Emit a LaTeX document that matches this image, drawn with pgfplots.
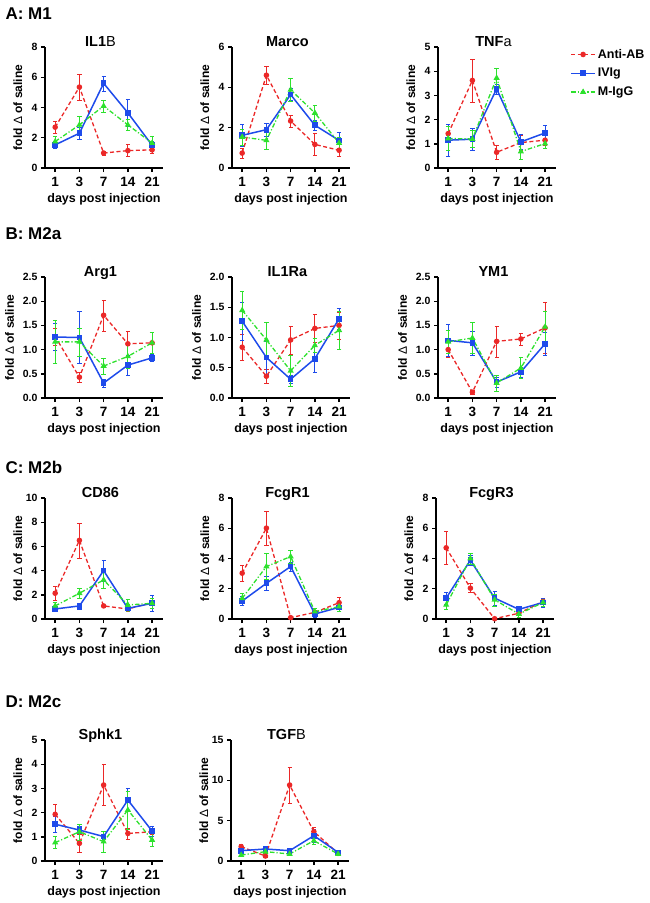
\documentclass[border=0pt]{standalone}
\usepackage{fontspec}
\setmainfont{Liberation Sans}
\usepackage{pgfplots}
\pgfplotsset{compat=1.18}
\definecolor{antired}{RGB}{235,40,40}
\definecolor{ivigblue}{RGB}{30,75,235}
\definecolor{migggreen}{RGB}{45,225,45}
\newcommand\fs[1]{\fontsize{#1}{#1}\selectfont\bfseries}

\pgfplotsset{
  panel/.style={
    scale only axis, width=118pt, height=121pt,
    anchor=south west,
    axis lines=left, axis line style={-, line width=1.4pt},
    tick style={line width=1.4pt, black}, tick align=outside,
    major tick length=4pt,
    xmin=-0.42, xmax=4.45, ymin=0,
    xtick={0,...,4}, xticklabels={1,3,7,14,21},
    /pgf/number format/assume math mode=true,
    yticklabel style={font=\fs{10.5}},
    xticklabel style={font=\fs{13.5}, yshift=-1.5pt},
    xlabel={days post injection},
    xlabel style={font=\fs{12.5}},
    ylabel={fold {\mdseries Δ} of saline},
    ylabel style={font=\fs{12}, at={(axis description cs:-0.23,0.5)}, anchor=center},
    title style={font=\fs{14.5}, at={(axis description cs:0.47,1)}, anchor=base, yshift=-5pt},
    clip=false,
  },
  dec/.style={yticklabel style={/pgf/number format/.cd, fixed, fixed zerofill, precision=1},
    ylabel style={at={(axis description cs:-0.30,0.5)}}},
  bars/.style={error bars/y dir=both, error bars/y explicit,
    /pgfplots/every error bar/.append style={#1, solid, line width=1pt}},
  anti/.style={color=antired, line width=1.3pt, dash pattern=on 4pt off 2.5pt,
    mark=*, mark size=2.1pt, mark options={solid}, bars=antired},
  ivig/.style={color=ivigblue, line width=1.5pt, solid,
    mark=square*, mark size=2.1pt, mark options={solid}, bars=ivigblue},
  migg/.style={color=migggreen, line width=1.3pt, dash pattern=on 4.5pt off 2pt on 1.2pt off 2pt,
    mark=triangle*, mark size=2.3pt, mark options={solid}, bars=migggreen},
}

\begin{document}
\begin{tikzpicture}
\path[use as bounding box] (0,0) rectangle (650pt,-903pt);

\node[anchor=west, font=\fs{17}] at (2pt,-14pt) {A: M1};
\node[anchor=west, font=\fs{17}] at (2pt,-234pt) {B: M2a};
\node[anchor=west, font=\fs{17}] at (2pt,-467pt) {C: M2b};
\node[anchor=west, font=\fs{17}] at (2pt,-702pt) {D: M2c};

% ---------- A: M1 ----------
\begin{axis}[panel, at={(45pt,-168pt)}, ymax=8, ytick={0,2,...,8},
  title={IL1{\mdseries B}}]
\addplot[anti] table[x=x,y=y,y error=e] {
x y e
0 2.70 0.40
1 5.35 0.85
2 0.99 0.15
3 1.15 0.40
4 1.20 0.20
};
\addplot[ivig] table[x=x,y=y,y error=e] {
x y e
0 1.53 0.25
1 2.30 0.40
2 5.60 0.50
3 3.65 0.90
4 1.50 0.30
};
\addplot[migg] table[x=x,y=y,y error=e] {
x y e
0 1.75 0.35
1 2.85 0.60
2 4.10 0.40
3 2.85 0.35
4 1.65 0.45
};
\end{axis}

\begin{axis}[panel, at={(232pt,-168pt)}, ymax=6, ytick={0,2,...,6},
  title={Marco}]
\addplot[anti] table[x=x,y=y,y error=e] {
x y e
0 0.74 0.25
1 4.60 0.45
2 2.33 0.30
3 1.17 0.55
4 0.88 0.30
};
\addplot[ivig] table[x=x,y=y,y error=e] {
x y e
0 1.62 0.55
1 1.90 0.30
2 3.64 0.30
3 2.12 0.25
4 1.37 0.40
};
\addplot[migg] table[x=x,y=y,y error=e] {
x y e
0 1.54 0.40
1 1.37 0.45
2 3.88 0.55
3 2.73 0.40
4 1.24 0.30
};
\end{axis}

\begin{axis}[panel, at={(438pt,-168pt)}, ymax=5, ytick={0,...,5},
  title={TNF{\mdseries a}},
  legend style={at={(1.12,1.0)}, anchor=north west, draw=none, fill=none,
    font=\fs{12.5}, row sep=4.5pt, inner sep=0pt},
  legend cell align=left,
  legend image code/.code={\draw[mark repeat=2, mark phase=2, #1]
    plot coordinates {(0pt,0pt) (12pt,0pt) (24pt,0pt)};}]
\addplot[anti] table[x=x,y=y,y error=e] {
x y e
0 1.42 0.30
1 3.62 0.88
2 0.65 0.30
3 1.05 0.30
4 1.15 0.20
};
\addlegendentry{Anti-AB}
\addplot[ivig] table[x=x,y=y,y error=e] {
x y e
0 1.15 0.65
1 1.19 0.45
2 3.27 0.20
3 1.08 0.30
4 1.45 0.30
};
\addlegendentry{IVIg}
\addplot[migg] table[x=x,y=y,y error=e] {
x y e
0 1.22 0.50
1 1.20 0.35
2 3.72 0.40
3 0.68 0.30
4 1.01 0.20
};
\addlegendentry{M-IgG}
\end{axis}

% ---------- B: M2a ----------
\begin{axis}[panel, dec, at={(45pt,-398pt)}, ymax=2.5, ytick={0,0.5,...,2.5},
  title={Arg1}]
\addplot[anti] table[x=x,y=y,y error=e] {
x y e
0 1.27 0.18
1 0.43 0.10
2 1.71 0.32
3 1.12 0.27
4 1.14 0.22
};
\addplot[ivig] table[x=x,y=y,y error=e] {
x y e
0 1.26 0.28
1 1.25 0.54
2 0.31 0.08
3 0.68 0.20
4 0.83 0.07
};
\addplot[migg] table[x=x,y=y,y error=e] {
x y e
0 1.16 0.44
1 1.16 0.29
2 0.66 0.17
3 0.86 0.25
4 1.14 0.22
};
\end{axis}

\begin{axis}[panel, dec, at={(232pt,-398pt)}, ymax=2, ytick={0,0.5,...,2},
  title={IL1Ra}]
\addplot[anti] table[x=x,y=y,y error=e] {
x y e
0 0.84 0.21
1 0.36 0.12
2 0.96 0.23
3 1.15 0.23
4 1.20 0.22
};
\addplot[ivig] table[x=x,y=y,y error=e] {
x y e
0 1.27 0.32
1 0.67 0.27
2 0.31 0.06
3 0.65 0.23
4 1.31 0.18
};
\addplot[migg] table[x=x,y=y,y error=e] {
x y e
0 1.45 0.32
1 0.96 0.30
2 0.45 0.26
3 0.87 0.12
4 1.12 0.31
};
\end{axis}

\begin{axis}[panel, dec, at={(438pt,-398pt)}, ymax=2.5, ytick={0,0.5,...,2.5},
  title={YM1}]
\addplot[anti] table[x=x,y=y,y error=e] {
x y e
0 1.00 0.15
1 0.12 0.05
2 1.17 0.32
3 1.22 0.12
4 1.45 0.53
};
\addplot[ivig] table[x=x,y=y,y error=e] {
x y e
0 1.19 0.33
1 1.14 0.25
2 0.33 0.10
3 0.54 0.10
4 1.12 0.23
};
\addplot[migg] table[x=x,y=y,y error=e] {
x y e
0 1.16 0.24
1 1.24 0.32
2 0.31 0.17
3 0.62 0.22
4 1.47 0.32
};
\end{axis}

% ---------- C: M2b ----------
\begin{axis}[panel, at={(45pt,-619pt)}, ymax=10, ytick={0,2,...,10},
  title={CD86}]
\addplot[anti] table[x=x,y=y,y error=e] {
x y e
0 2.13 0.55
1 6.50 1.45
2 1.08 0.10
3 0.83 0.10
4 1.35 0.10
};
\addplot[ivig] table[x=x,y=y,y error=e] {
x y e
0 0.83 0.20
1 1.08 0.25
2 4.00 0.90
3 0.88 0.20
4 1.30 0.65
};
\addplot[migg] table[x=x,y=y,y error=e] {
x y e
0 1.08 0.30
1 2.13 0.45
2 3.23 0.65
3 1.16 0.50
4 1.30 0.40
};
\end{axis}

\begin{axis}[panel, at={(232pt,-619pt)}, ymax=8, ytick={0,2,...,8},
  title={FcgR1}]
\addplot[anti] table[x=x,y=y,y error=e] {
x y e
0 3.03 0.50
1 6.01 1.15
2 0.09 0.05
3 0.44 0.30
4 1.08 0.35
};
\addplot[ivig] table[x=x,y=y,y error=e] {
x y e
0 1.19 0.30
1 2.36 0.45
2 3.47 0.30
3 0.33 0.20
4 0.77 0.25
};
\addplot[migg] table[x=x,y=y,y error=e] {
x y e
0 1.37 0.35
1 3.47 0.85
2 4.13 0.45
3 0.49 0.25
4 0.82 0.30
};
\end{axis}

\begin{axis}[panel, at={(436pt,-619pt)}, ymax=8, ytick={0,2,...,8},
  title={FcgR3}]
\addplot[anti] table[x=x,y=y,y error=e] {
x y e
0 4.71 1.10
1 2.04 0.30
2 0.02 0.05
3 0.38 0.10
4 1.16 0.20
};
\addplot[ivig] table[x=x,y=y,y error=e] {
x y e
0 1.38 0.38
1 3.89 0.35
2 1.38 0.47
3 0.64 0.22
4 1.09 0.30
};
\addplot[migg] table[x=x,y=y,y error=e] {
x y e
0 0.93 0.30
1 4.00 0.35
2 1.27 0.40
3 0.33 0.20
4 1.09 0.25
};
\end{axis}

% ---------- D: M2c ----------
\begin{axis}[panel, at={(45pt,-861pt)}, ymax=5, ytick={0,...,5},
  title={Sphk1}]
\addplot[anti] table[x=x,y=y,y error=e] {
x y e
0 1.93 0.43
1 0.73 0.38
2 3.14 0.85
3 1.14 0.22
4 1.21 0.10
};
\addplot[ivig] table[x=x,y=y,y error=e] {
x y e
0 1.52 0.33
1 1.28 0.15
2 1.01 0.10
3 2.52 0.48
4 1.24 0.20
};
\addplot[migg] table[x=x,y=y,y error=e] {
x y e
0 0.76 0.25
1 1.21 0.33
2 0.80 0.43
3 2.11 0.79
4 0.87 0.27
};
\end{axis}

\begin{axis}[panel, at={(231pt,-861pt)}, ymax=15, ytick={0,5,10,15},
  title={TGF{\mdseries B}}]
\addplot[anti] table[x=x,y=y,y error=e] {
x y e
0 1.78 0.35
1 0.62 0.10
2 9.42 2.27
3 3.64 0.55
4 0.95 0.10
};
\addplot[ivig] table[x=x,y=y,y error=e] {
x y e
0 1.28 0.30
1 1.49 0.15
2 1.28 0.10
3 3.14 0.77
4 1.07 0.10
};
\addplot[migg] table[x=x,y=y,y error=e] {
x y e
0 0.74 0.20
1 1.16 0.15
2 0.87 0.15
3 2.52 0.40
4 0.87 0.10
};
\end{axis}
\end{tikzpicture}
\end{document}
